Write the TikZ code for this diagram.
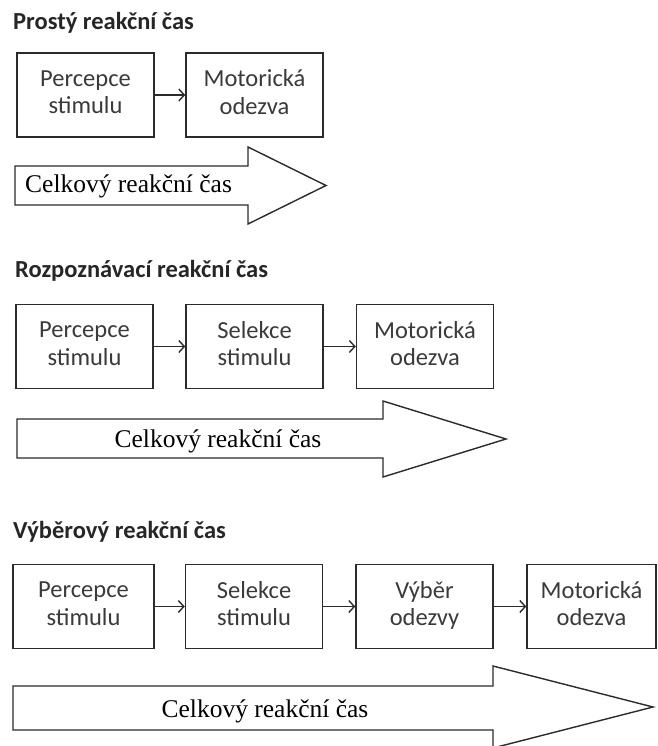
\documentclass[tikz,border=0pt]{standalone}
\usepackage{fontspec}
\setmainfont{Liberation Serif}
\newfontfamily\calfont{Carlito}
\definecolor{LineGray}{HTML}{2B2B2B}
\definecolor{TextGray}{HTML}{3A3A3A}
\usepackage{tikz}
\usetikzlibrary{positioning,arrows.meta}

\begin{document}
\begin{tikzpicture}[x=1pt, y=-1pt,
    stage/.style={rectangle, draw=LineGray, line width=1.5pt, fill=white,
      minimum width=137pt, minimum height=84pt, inner sep=0pt, align=center,
      text=TextGray, font=\calfont\fontsize{24.5}{27.5}\selectfont,
      execute at begin node=\rule{0pt}{24pt},
      execute at end node=\rule[-6pt]{0pt}{6pt}},
    heading/.style={anchor=base west, inner sep=0pt, text=black!85,
      font=\calfont\bfseries\fontsize{24.5}{28}\selectfont},
    total/.style={anchor=base, inner sep=0pt, font=\fontsize{25.5}{30}\selectfont},
    bigarrow/.style={draw=LineGray, line width=1.4pt, fill=white},
    link/.style={-{Straight Barb[length=5.5pt, width=12pt]}, line width=1.4pt, draw=LineGray}]
    \useasboundingbox (0,0) rectangle (657,746);

    % Prosty reakcni cas
    \node[heading] (t1) at (13,30) {Prostý reakční čas};
    \node[stage] (s1perc) at (85.5,95) {Percepce\\stimulu};
    \node[stage] (s1motor) at (254.5,95) {Motorická\\odezva};
    \draw[link] (s1perc) -- (s1motor);
    \draw[bigarrow] (15,166) -- (248,166) -- (248,147) -- (326,185.5)
      -- (248,224) -- (248,205) -- (15,205) -- cycle;
    \node[total, anchor=base west] (c1) at (25,193) {Celkový reakční čas};

    % Rozpoznavaci reakcni cas
    \node[heading] (t2) at (15,277) {Rozpoznávací reakční čas};
    \node[stage] (s2perc) at (84.5,346.5) {Percepce\\stimulu};
    \node[stage] (s2sel) at (254.5,346.5) {Selekce\\stimulu};
    \node[stage] (s2motor) at (425,346.5) {Motorická\\odezva};
    \draw[link] (s2perc) -- (s2sel);
    \draw[link] (s2sel) -- (s2motor);
    \draw[bigarrow] (17,419) -- (383,419) -- (383,401) -- (506,439)
      -- (383,477) -- (383,458) -- (17,458) -- cycle;
    \node[total] (c2) at (218,447) {Celkový reakční čas};

    % Vyberovy reakcni cas
    \node[heading] (t3) at (13,538) {Výběrový reakční čas};
    \node[stage, minimum width=141pt] (s3perc) at (83.5,606.5) {Percepce\\stimulu};
    \node[stage] (s3sel) at (254,606.5) {Selekce\\stimulu};
    \node[stage] (s3vyb) at (424.5,606.5) {Výběr\\odezvy};
    \node[stage, minimum width=129pt] (s3motor) at (591.5,606.5) {Motorická\\odezva};
    \draw[link] (s3perc) -- (s3sel);
    \draw[link] (s3sel) -- (s3vyb);
    \draw[link] (s3vyb) -- (s3motor);
    \draw[bigarrow] (13,686) -- (493,686) -- (493,666) -- (653,707)
      -- (493,748) -- (493,730) -- (13,730) -- cycle;
    \node[total] (c3) at (265,717) {Celkový reakční čas};
\end{tikzpicture}
\end{document}
